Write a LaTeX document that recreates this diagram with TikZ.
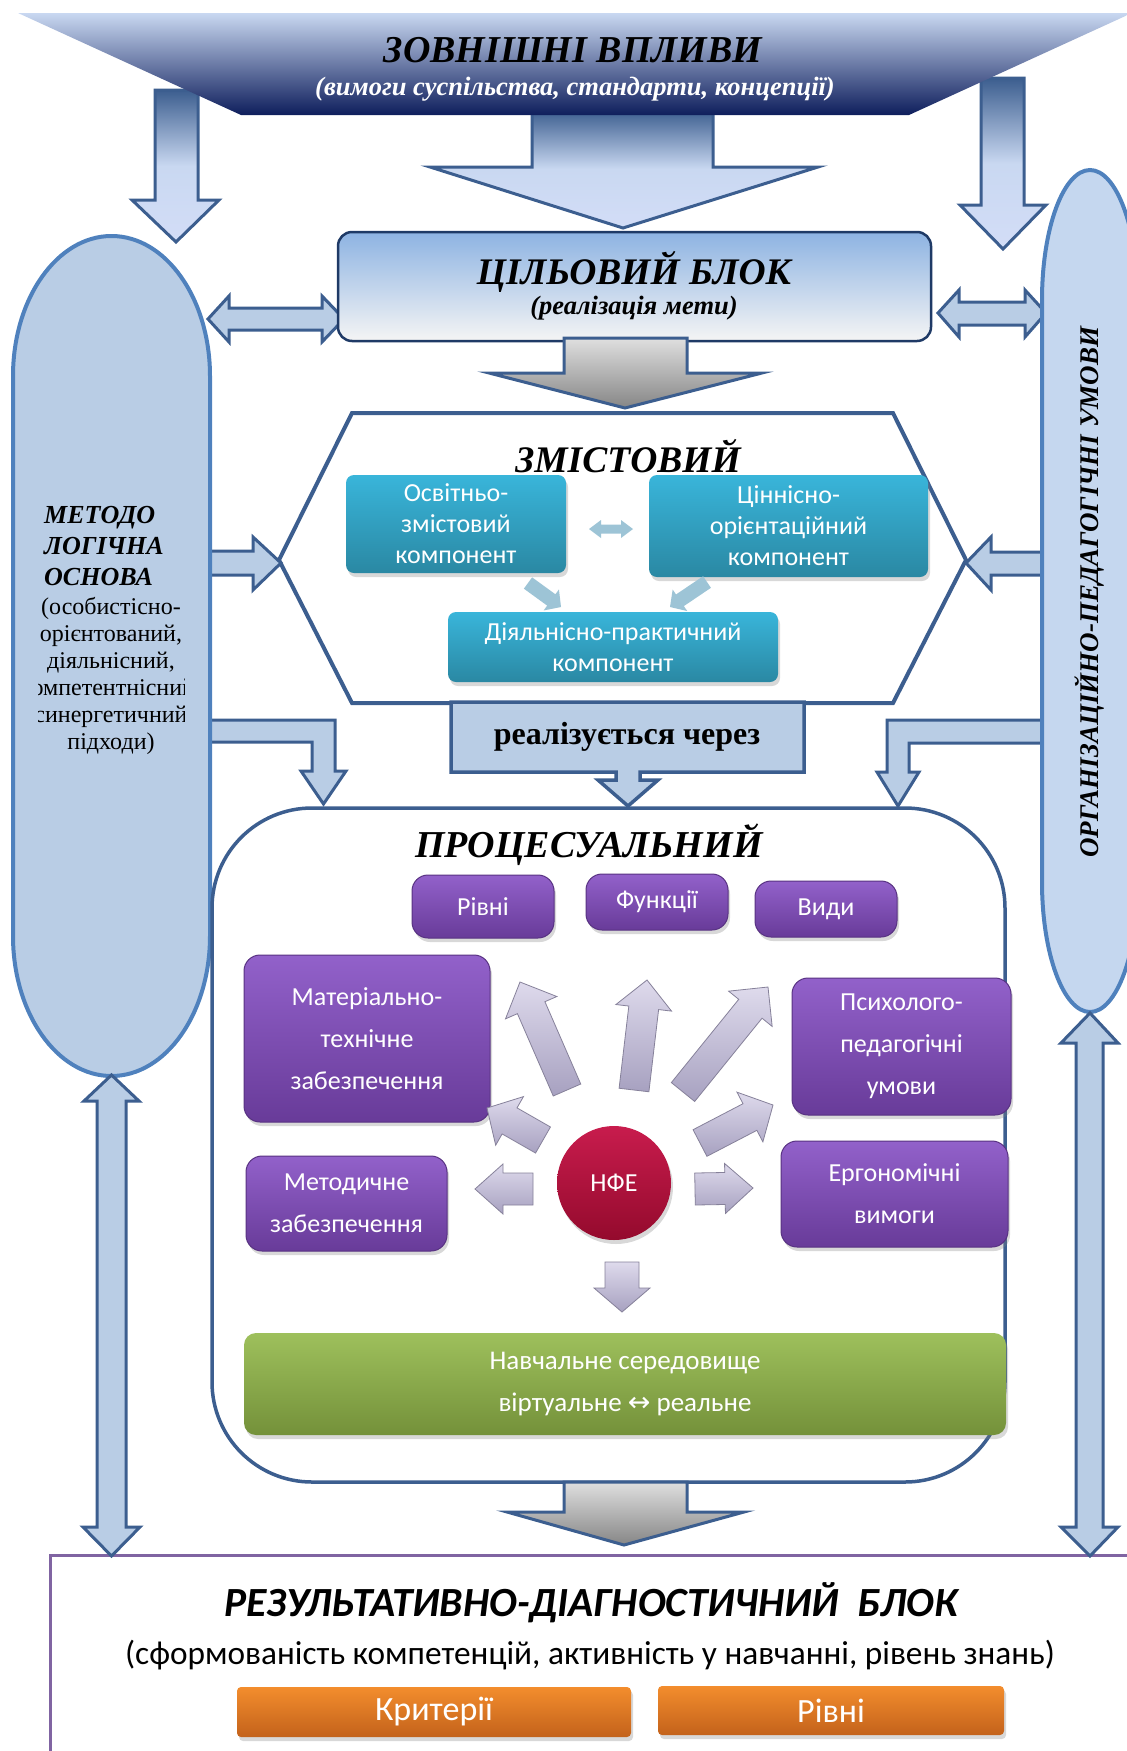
\documentclass[tikz,border=0pt]{standalone}
\usepackage{fontspec}
\setmainfont{Liberation Serif}
\newfontfamily\calibri{Carlito}
\newfontfamily\symbfont{DejaVu Sans}
\usetikzlibrary{calc,shadows}

\definecolor{navy}{HTML}{0E1E5C}
\definecolor{skytop}{HTML}{C9D8F1}
\definecolor{skylight}{HTML}{D3DDF7}
\definecolor{linedark}{HTML}{3C5E8F}
\definecolor{palefill}{HTML}{B9CDE5}
\definecolor{ovalline}{HTML}{4F81BD}
\definecolor{ovalright}{HTML}{C5D7EF}
\definecolor{goaltop}{HTML}{8DB3E2}
\definecolor{goalline}{HTML}{1F3A66}
\definecolor{tealtop}{HTML}{39B5DA}
\definecolor{tealbot}{HTML}{2A88A3}
\definecolor{mist}{HTML}{9DC4D6}
\definecolor{purtop}{HTML}{9261CA}
\definecolor{purbot}{HTML}{683B99}
\definecolor{crimsontop}{HTML}{C81C4D}
\definecolor{crimsonbot}{HTML}{940A2D}
\definecolor{greentop}{HTML}{9EC05C}
\definecolor{greenbot}{HTML}{74913A}
\definecolor{orangetop}{HTML}{F38D2D}
\definecolor{orangebot}{HTML}{C3621B}
\definecolor{resline}{HTML}{8064A2}
\definecolor{lilactop}{HTML}{DEDAEC}
\definecolor{lilacbot}{HTML}{A7A1C0}

\tikzset{
    headline/.style={font=\bfseries\itshape\fontsize{#1}{#1}\selectfont, inner sep=0pt},
    skyarrow/.style={top color=linedark, bottom color=skylight, middle color=skytop, draw=linedark, line width=3pt},
    grayarrow/.style={top color=gray!25, bottom color=gray!95, draw=linedark, line width=3pt},
    palearrow/.style={fill=palefill, draw=linedark, line width=3pt},
    lilacarrow/.style={top color=lilactop, bottom color=lilacbot, draw=lilacbot!80!black, line width=0.8pt},
    tealarrow/.style={fill=mist},
    ovalshape/.style={draw=ovalline, line width=4pt},
    hexline/.style={draw=linedark, line width=4pt, fill=white},
    procline/.style={draw=linedark, line width=3.5pt, fill=white, rounded corners=100pt},
    goalbox/.style={rounded corners=14pt, top color=goaltop, bottom color=white!96!black, draw=goalline, line width=2.5pt},
    boxshadow/.style={drop shadow={opacity=0.3, shadow xshift=2pt, shadow yshift=-4pt}},
    tealbox/.style={rounded corners=8pt, top color=tealtop, bottom color=tealbot, text=white, align=center,
        inner sep=0pt, font=\calibri\fontsize{26}{31}\selectfont, boxshadow},
    purplebox/.style={rounded corners=16pt, top color=purtop, bottom color=purbot, draw=purbot!85!black, line width=1pt,
        text=white, align=center, inner sep=0pt, font=\calibri\fontsize{26}{42}\selectfont, boxshadow},
    greenbox/.style={rounded corners=12pt, top color=greentop, bottom color=greenbot, text=white, align=center,
        inner sep=0pt, font=\calibri\fontsize{27}{42}\selectfont, boxshadow},
    orangebox/.style={rounded corners=4pt, top color=orangetop, bottom color=orangebot, text=white, align=center,
        inner sep=0pt, font=\calibri\fontsize{34}{34}\selectfont, boxshadow},
    nfecircle/.style={circle, top color=crimsontop, bottom color=crimsonbot, text=white, inner sep=0pt,
        font=\calibri\fontsize{26}{26}\selectfont, boxshadow},
    ovaltitle/.style={font=\bfseries\itshape\fontsize{26}{31}\selectfont, align=left, inner sep=0pt},
    ovalnote/.style={font=\fontsize{24}{27}\selectfont, align=center, inner sep=0pt},
    resultframe/.style={draw=resline, line width=3pt, fill=white}
}

\newcommand{\fatarrow}[6]{%
    \coordinate (arrow-base) at ($#3!#6!#2$);
    \draw [#1] ($#2!#4!90:#3$) -- ($(arrow-base)!#4!90:#3$) -- ($(arrow-base)!#5!90:#3$) -- #3
        -- ($(arrow-base)!#5!-90:#3$) -- ($(arrow-base)!#4!-90:#3$) -- ($#2!#4!-90:#3$) -- cycle;
}

\begin{document}
\begin{tikzpicture}[x=1pt, y=-1pt]
    \useasboundingbox (0, 0) rectangle (1127, 1751);

    \draw [skyarrow] (155, 90) -- (198, 90) -- (198, 200) -- (219, 200) -- (176, 242) -- (132, 200) -- (155, 200) -- cycle;
    \draw [skyarrow] (981, 78) -- (1024, 78) -- (1024, 205) -- (1046, 205) -- (1003, 249) -- (960, 205) -- (981, 205) -- cycle;
    \draw [skyarrow] (532, 110) -- (713, 110) -- (713, 167) -- (818, 167) -- (623, 228) -- (430, 167) -- (532, 167) -- cycle;

    \path [top color=skytop, bottom color=navy] (18, 13) -- (1132, 13) -- (909, 115) -- (241, 115) -- cycle;
    \node [headline=38] (outer) at (573, 50) {ЗОВНІШНІ ВПЛИВИ};
    \node [headline=26.5, text=white] (outer-note) at (575, 89) {(вимоги суспільства, стандарти, концепції)};

    \draw [palearrow] (208, 319) -- (229, 296) -- (229, 308) -- (322, 308) -- (322, 296) -- (344, 319) -- (322, 342) -- (322, 330) -- (229, 330) -- (229, 342) -- cycle;
    \draw [palearrow] (938, 313) -- (959, 290) -- (959, 302) -- (1025, 302) -- (1025, 290) -- (1046, 313) -- (1025, 337) -- (1025, 325) -- (959, 325) -- (959, 337) -- cycle;

    \node [goalbox, minimum width=593pt, minimum height=109pt] (goal) at (634.5, 286.5) {};
    \node [headline=37.5] (goal-title) at (634, 272) {ЦІЛЬОВИЙ БЛОК};
    \node [headline=26.5] (goal-note) at (634, 308) {(реалізація мети)};

    \draw [grayarrow] (564, 338) -- (687, 338) -- (687, 373) -- (762, 373) -- (625, 408) -- (489, 373) -- (564, 373) -- cycle;

    \draw [hexline] (352, 413) -- (893, 413) -- (966, 560) -- (893, 703) -- (352, 703) -- (279, 560) -- cycle;

    \draw [palearrow] (200, 551) -- (253, 551) -- (253, 537) -- (281, 563) -- (253, 590) -- (253, 575) -- (200, 575) -- cycle;
    \draw [palearrow] (1050, 552) -- (991, 552) -- (991, 537) -- (966, 563) -- (991, 590) -- (991, 575) -- (1050, 575) -- cycle;
    \draw [palearrow] (200, 720) -- (335, 720) -- (335, 771) -- (346, 771) -- (323.5, 804) -- (301, 771) -- (312, 771) -- (312, 742) -- (200, 742) -- cycle;
    \draw [palearrow] (1050, 720) -- (887, 720) -- (887, 772) -- (877, 772) -- (898, 806) -- (919, 772) -- (909, 772) -- (909, 743) -- (1050, 743) -- cycle;

    \draw [ovalshape, fill=palefill] (13, 376) arc [start angle=180, end angle=0, x radius=98.5pt, y radius=140pt]
        -- (210, 936) arc [start angle=0, end angle=-180, x radius=98.5pt, y radius=140pt] -- cycle;
    \node [ovaltitle, anchor=west] (method) at (44, 546) {МЕТОДО\\ЛОГІЧНА\\ОСНОВА};
    \begin{scope}
        \clip (38, 585) rectangle (184, 765);
        \node [ovalnote] (method-note) at (111, 676) {(особистісно-\\орієнтований,\\діяльнісний,\\компетентнісний,\\синергетичний\\підходи)};
    \end{scope}

    \draw [ovalshape, fill=ovalright] (1042, 300) arc [start angle=180, end angle=0, x radius=48pt, y radius=130pt]
        -- (1138, 882) arc [start angle=0, end angle=-180, x radius=48pt, y radius=130pt] -- cycle;
    \node [headline=27, rotate=90] (conditions) at (1089, 592) {ОРГАНІЗАЦІЙНО-ПЕДАГОГІЧНІ УМОВИ};

    \node [headline=37.5] (content) at (628, 456) {ЗМІСТОВИЙ};
    \node [tealbox, minimum width=220pt, minimum height=98pt] (osvit) at (456, 524) {Освітньо-\\змістовий\\компонент};
    \node [tealbox, minimum width=279pt, minimum height=102pt] (cinnis) at (788.5, 526) {Ціннісно-\\орієнтаційний\\компонент};
    \node [tealbox, minimum width=330pt, minimum height=70pt] (diyal) at (613, 647) {Діяльнісно-практичний\\компонент};
    \draw [tealarrow, draw=none] (589, 529) -- (601, 520) -- (601, 524.5) -- (621, 524.5) -- (621, 520) -- (633, 529) -- (621, 538) -- (621, 533.5) -- (601, 533.5) -- (601, 538) -- cycle;
    \fatarrow{tealarrow, draw=none}{(528, 583)}{(561, 607)}{7pt}{13pt}{12pt}
    \fatarrow{tealarrow, draw=none}{(707, 582)}{(670, 607)}{7pt}{13pt}{12pt}

    \draw [palearrow, line width=3.5pt] (451, 702) -- (804, 702) -- (804, 772) -- (640, 772) -- (640, 780) -- (658, 780) -- (628, 806)
        -- (598, 780) -- (616, 780) -- (616, 772) -- (451, 772) -- cycle;
    \node [font=\bfseries\fontsize{32}{32}\selectfont, inner sep=0pt] (through) at (627, 737) {реалізується через};

    \draw [procline] (212, 808) rectangle (1005, 1482);
    \node [headline=38] (process) at (589, 845) {ПРОЦЕСУАЛЬНИЙ};

    \node [purplebox, minimum width=142pt, minimum height=63pt] (levels-p) at (483, 906.5) {Рівні};
    \node [purplebox, minimum width=142pt, minimum height=56pt] (functions) at (657, 902) {Функції};
    \node [purplebox, minimum width=142pt, minimum height=56pt] (kinds) at (826, 909) {Види};
    \node [purplebox, minimum width=246pt, minimum height=167pt] (material) at (367, 1038.5) {Матеріально-\\технічне\\забезпечення};
    \node [purplebox, minimum width=219pt, minimum height=137pt] (psycho) at (901.5, 1046.5) {Психолого-\\педагогічні\\умови};
    \node [purplebox, minimum width=201pt, minimum height=95pt] (methodic) at (346.5, 1203.5) {Методичне\\забезпечення};
    \node [purplebox, minimum width=227pt, minimum height=106pt] (ergo) at (894.5, 1194) {Ергономічні\\вимоги};

    \node [nfecircle, minimum size=114pt] (nfe) at (614, 1183) {НФЕ};
    \fatarrow{lilacarrow}{(567, 1090)}{(520, 982)}{15pt}{28pt}{28pt}
    \fatarrow{lilacarrow}{(634, 1090)}{(647, 980)}{15pt}{28pt}{28pt}
    \fatarrow{lilacarrow}{(683, 1092)}{(768, 987)}{15pt}{28pt}{28pt}
    \fatarrow{lilacarrow}{(543, 1140)}{(487, 1108)}{15pt}{28pt}{26pt}
    \fatarrow{lilacarrow}{(700, 1143)}{(773, 1105)}{15pt}{28pt}{26pt}
    \fatarrow{lilacarrow}{(533, 1189)}{(475, 1189)}{16pt}{25pt}{28pt}
    \fatarrow{lilacarrow}{(695, 1189)}{(753, 1188)}{16pt}{25pt}{28pt}
    \fatarrow{lilacarrow}{(622, 1262)}{(622, 1312)}{17pt}{28pt}{24pt}

    \node [greenbox, minimum width=762pt, minimum height=102pt] (medium) at (625, 1384) {Навчальне середовище\\віртуальне {\symbfont ↔} реальне};

    \draw [grayarrow] (564, 1482) -- (687, 1482) -- (687, 1512) -- (744, 1512) -- (624, 1545) -- (507, 1512) -- (564, 1512) -- cycle;

    \draw [resultframe] (50, 1555) rectangle (1150, 1780);
    \node [font=\calibri\bfseries\itshape\fontsize{41.5}{41.5}\selectfont, inner sep=0pt] (result) at (591, 1603) {РЕЗУЛЬТАТИВНО-ДІАГНОСТИЧНИЙ\ \ БЛОК};
    \node [font=\calibri\fontsize{33.3}{33.3}\selectfont, inner sep=0pt] (result-note) at (590, 1655) {(сформованість компетенцій, активність у навчанні, рівень знань)};
    \node [orangebox, minimum width=394pt, minimum height=50pt] (criteria) at (434, 1712) {Критерії};
    \node [orangebox, minimum width=346pt, minimum height=49pt] (levels-r) at (831, 1710.5) {Рівні};

    \draw [palearrow] (111.5, 1075) -- (139, 1101) -- (126, 1101) -- (126, 1527) -- (140, 1527) -- (111.5, 1556) -- (83, 1527) -- (97, 1527) -- (97, 1101) -- (84, 1101) -- cycle;
    \draw [palearrow] (1090, 1013) -- (1118, 1043) -- (1103, 1043) -- (1103, 1527) -- (1118, 1527) -- (1090, 1556) -- (1061, 1527) -- (1076, 1527) -- (1076, 1043) -- (1061, 1043) -- cycle;
\end{tikzpicture}
\end{document}
